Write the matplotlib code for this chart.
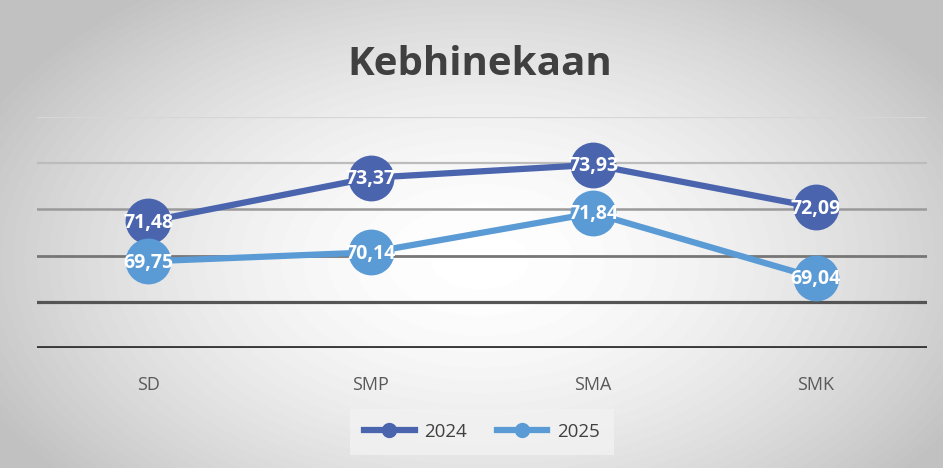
import numpy as np
import matplotlib.pyplot as plt
from matplotlib.lines import Line2D

categories = ['SD', 'SMP', 'SMA', 'SMK']
values_2024 = [71.48, 73.37, 73.93, 72.09]
values_2025 = [69.75, 70.14, 71.84, 69.04]
series_names = ['2024', '2025']
colors = ['#4A64AE', '#5B9BD5']

fig = plt.figure(figsize=(9.43, 4.68), dpi=100)

# latar belakang gradien radial
bg = fig.add_axes([0, 0, 1, 1], zorder=0)
yy, xx = np.mgrid[0:468, 0:943]
r = np.sqrt(((xx - 480) / 560.0) ** 2 + ((yy - 260) / 340.0) ** 2)
shade = np.clip(1.0 - 0.25 * r ** 1.7, 0.76, 1.0)
bg.imshow(shade, cmap='gray', vmin=0, vmax=1, aspect='auto')
bg.axis('off')

ax = fig.add_axes([0.0392, 0.2564, 0.9438, 0.4936], zorder=1)
ax.patch.set_alpha(0)

x = np.arange(len(categories))
grid_vals = [66, 68, 70, 72, 74, 76]
grid_cols = ['#3a3a3a', '#555555', '#767676', '#9a9a9a', '#bcbcbc', '#d6d6d6']
grid_lw = [2.8, 2.3, 2.0, 1.8, 1.6, 1.6]
for v, c, w in zip(grid_vals, grid_cols, grid_lw):
    ax.axhline(v, color=c, lw=w, zorder=1)

for vals, col in zip([values_2024, values_2025], colors):
    ax.plot(x, vals, color=col, lw=4.5, marker='o', markersize=33,
            markeredgewidth=0, zorder=3)
    for xi, v in zip(x, vals):
        ax.text(xi, v - 0.06, f'{v:.2f}'.replace('.', ','), ha='center', va='center',
                color='white', fontsize=14, fontweight='bold',
                family='Open Sans', zorder=4)

ax.set_xlim(-0.5, len(categories) - 0.5)
ax.set_ylim(66, 76)
ax.set_yticks([])
ax.set_xticks(x)
ax.set_xticklabels(categories, fontsize=13, color='#595959', family='Open Sans')
ax.tick_params(axis='x', length=0, pad=20)
for s in ax.spines.values():
    s.set_visible(False)

fig.text(0.509, 0.862, 'Kebhinekaan', ha='center', va='center', fontsize=29,
         fontweight='bold', color='#404040', family='Open Sans')

handles = [Line2D([0], [0], color=c, lw=4.5, marker='o', markersize=10)
           for c in colors]
leg = fig.legend(handles, series_names, loc='center', bbox_to_anchor=(0.511, 0.077),
                 ncol=2, frameon=True, fontsize=13.5, handlelength=2.7,
                 handletextpad=0.5, columnspacing=1.6, borderpad=0.75)
leg.get_frame().set_facecolor('#f2f2f2')
leg.get_frame().set_edgecolor('none')
leg.get_frame().set_boxstyle('square', pad=0)
for t in leg.get_texts():
    t.set_color('#404040')
    t.set_family('Open Sans')

fig.savefig('out.png', dpi=100)
